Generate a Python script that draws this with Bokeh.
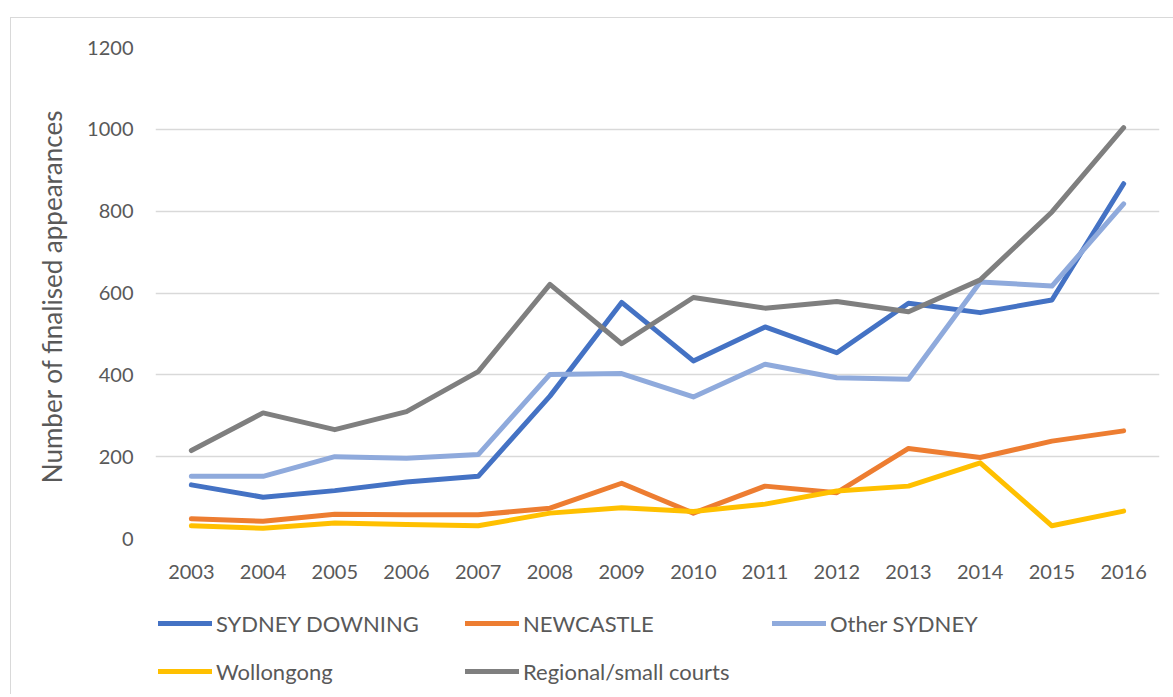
from bokeh.plotting import figure
from bokeh.models import Legend, LegendItem, FixedTicker, Title
from bokeh.layouts import column
from bokeh.embed import file_html
from bokeh.resources import INLINE

years = ["2003", "2004", "2005", "2006", "2007", "2008", "2009",
         "2010", "2011", "2012", "2013", "2014", "2015", "2016"]
sydney_downing = [131, 101, 117, 138, 152, 348, 577, 434, 517, 454, 575, 552, 583, 867]
newcastle = [48, 42, 59, 58, 58, 74, 135, 62, 128, 112, 220, 198, 238, 263]
other_sydney = [152, 152, 200, 196, 205, 401, 403, 346, 426, 393, 389, 627, 617, 818]
wollongong = [31, 25, 38, 34, 31, 62, 75, 66, 84, 116, 128, 185, 31, 67]
regional = [215, 307, 266, 310, 408, 621, 476, 589, 563, 579, 554, 632, 798, 1004]
y_ticks = [0, 200, 400, 600, 800, 1000, 1200]

series = [
    ("SYDNEY DOWNING", sydney_downing, "#4472C4"),
    ("NEWCASTLE", newcastle, "#ED7D31"),
    ("Other SYDNEY", other_sydney, "#8FAADC"),
    ("Wollongong", wollongong, "#FFC000"),
    ("Regional/small courts", regional, "#7F7F7F"),
]

FONT = "Lato"
TXT = "#595959"

# main chart
p = figure(x_range=years, y_range=(0, 1200), width=1162, height=572,
           output_backend="svg", toolbar_location=None,
           min_border_left=144, min_border_right=14, min_border_top=29,
           min_border_bottom=52)
p.outline_line_color = None
p.background_fill_color = "white"
p.border_fill_color = "white"

for name, vals, col in series:
    p.line(years, vals, line_color=col, line_width=5,
           line_join="round", line_cap="round")

p.xgrid.grid_line_color = None
p.ygrid.grid_line_color = "#D9D9D9"
p.ygrid.grid_line_width = 1.3

p.yaxis.ticker = FixedTicker(ticks=y_ticks)
for ax in (p.xaxis[0], p.yaxis[0]):
    ax.axis_line_color = None
    ax.major_tick_line_color = None
    ax.minor_tick_line_color = None
    ax.major_label_text_font = FONT
    ax.major_label_text_font_size = "20px"
    ax.major_label_text_color = TXT
p.xaxis.major_label_standoff = 20
p.yaxis.major_label_standoff = 16

p.add_layout(Title(text="Number of  finalised appearances", align="center",
                   text_font=FONT, text_font_size="26px", text_color=TXT,
                   text_font_style="normal", standoff=34), "left")

# legend strip (same series, drawn outside its visible range)
p2 = figure(x_range=years, y_range=(5000, 5001), width=1162, height=104,
            output_backend="svg", toolbar_location=None,
            x_axis_location=None, y_axis_location=None,
            min_border_left=0, min_border_right=0, min_border_top=0,
            min_border_bottom=0)
p2.outline_line_color = None
p2.grid.grid_line_color = None
p2.background_fill_color = "white"
p2.border_fill_color = "white"

items = []
for name, vals, col in series:
    r = p2.line(years, vals, line_color=col, line_width=5, line_cap="round")
    items.append(LegendItem(label=name, renderers=[r]))

legend = Legend(items=items, orientation="horizontal", ncols=3,
                location=(3, 3), glyph_width=54, glyph_height=40,
                label_height=40, label_width=241, label_standoff=4,
                spacing=8, padding=0, margin=0,
                border_line_color=None, background_fill_alpha=0,
                label_text_font=FONT, label_text_font_size="22px",
                label_text_color=TXT)
p2.add_layout(legend)

layout = column(p, p2, spacing=0,
                styles={"border-left": "1px solid #D9D9D9",
                        "border-top": "1px solid #D9D9D9",
                        "margin-left": "10px", "margin-top": "17px"})

open("out.html", "w").write(file_html(layout, INLINE))
